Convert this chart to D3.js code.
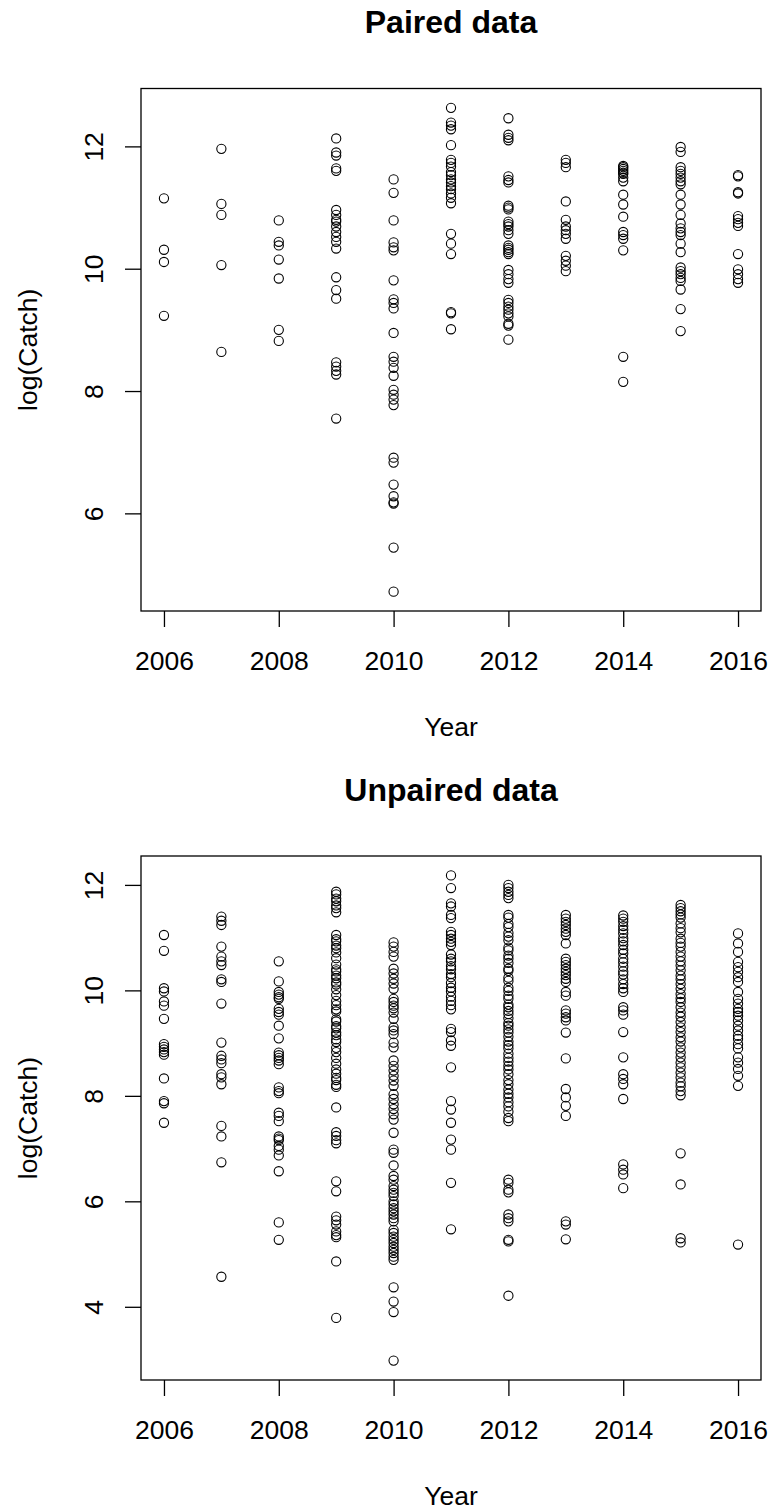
<!DOCTYPE html>
<html>
<head>
<meta charset="utf-8">
<script src="https://cdn.jsdelivr.net/npm/d3@7"></script>
<style>
  html, body { margin: 0; padding: 0; background: #fff; }
  svg { display: block; font-family: 'Liberation Sans', Arial, Helvetica, sans-serif; }
</style>
</head>
<body>
<div id="chart"></div>
<script>
// survey years (one column of points per year)
const years = [2006, 2007, 2008, 2009, 2010, 2011, 2012, 2013, 2014, 2015, 2016]

// log(Catch) per year, paired data
const pairedCatch = [
  [11.15, 10.31, 10.11, 9.23],
  [11.96, 11.06, 10.88, 10.06, 8.64],
  [10.79, 10.44, 10.38, 10.15, 9.84, 9.0, 8.82],
  [12.13, 11.9, 11.85, 11.64, 11.6, 10.96, 10.88, 10.8, 10.77, 10.69, 10.6, 10.52, 10.44, 10.33, 9.86, 9.65, 9.51, 8.47, 8.4, 8.33, 8.27, 7.55],
  [11.46, 11.24, 10.79, 10.43, 10.35, 10.3, 9.81, 9.5, 9.44, 9.35, 8.95, 8.56, 8.48, 8.38, 8.25, 8.02, 7.94, 7.86, 7.77, 6.91, 6.83, 6.47, 6.28, 6.18, 6.16, 5.44, 4.72],
  [12.63, 12.39, 12.34, 12.28, 12.02, 11.78, 11.73, 11.67, 11.58, 11.53, 11.46, 11.41, 11.35, 11.3, 11.23, 11.16, 11.07, 10.57, 10.41, 10.24, 9.29, 9.27, 9.01],
  [12.46, 12.19, 12.14, 12.1, 11.51, 11.45, 11.41, 11.03, 11.0, 10.97, 10.77, 10.73, 10.69, 10.63, 10.57, 10.38, 10.34, 10.31, 10.27, 10.24, 9.98, 9.91, 9.83, 9.77, 9.49, 9.44, 9.38, 9.33, 9.27, 9.22, 9.1, 9.07, 8.84],
  [11.78, 11.73, 11.66, 11.1, 10.8, 10.69, 10.63, 10.57, 10.49, 10.21, 10.13, 10.05, 9.96],
  [11.68, 11.66, 11.63, 11.6, 11.57, 11.55, 11.49, 11.43, 11.21, 11.05, 10.85, 10.6, 10.55, 10.49, 10.3, 8.56, 8.15],
  [11.99, 11.91, 11.66, 11.6, 11.55, 11.49, 11.43, 11.38, 11.21, 11.05, 10.88, 10.74, 10.66, 10.6, 10.55, 10.41, 10.27, 10.02, 9.96, 9.91, 9.85, 9.8, 9.66, 9.34, 8.98],
  [11.53, 11.51, 11.25, 11.23, 10.86, 10.81, 10.75, 10.7, 10.24, 9.99, 9.91, 9.83, 9.77],
]

// log(Catch) per year, unpaired data
const unpairedCatch = [
  [11.05, 10.75, 10.04, 9.98, 9.79, 9.71, 9.46, 8.98, 8.93, 8.88, 8.83, 8.78, 8.33, 7.9, 7.86, 7.49],
  [11.4, 11.32, 11.24, 10.83, 10.64, 10.55, 10.48, 10.21, 10.16, 9.75, 9.01, 8.76, 8.69, 8.62, 8.41, 8.35, 8.22, 7.43, 7.23, 6.74, 4.57],
  [10.55, 10.17, 9.97, 9.92, 9.87, 9.84, 9.65, 9.59, 9.54, 9.33, 9.09, 8.82, 8.77, 8.72, 8.67, 8.6, 8.16, 8.09, 8.05, 7.68, 7.62, 7.52, 7.23, 7.19, 7.16, 7.05, 6.98, 6.87, 6.57, 5.6, 5.27],
  [11.87, 11.82, 11.74, 11.69, 11.61, 11.56, 11.48, 11.05, 10.97, 10.93, 10.85, 10.8, 10.72, 10.61, 10.49, 10.4, 10.36, 10.28, 10.23, 10.15, 10.11, 10.02, 9.91, 9.8, 9.72, 9.64, 9.6, 9.45, 9.41, 9.32, 9.28, 9.2, 9.15, 9.07, 9.02, 8.91, 8.83, 8.72, 8.61, 8.5, 8.42, 8.34, 8.3, 8.21, 8.17, 7.78, 7.31, 7.24, 7.16, 7.1, 6.38, 6.19, 5.71, 5.64, 5.56, 5.43, 5.36, 5.32, 4.86, 3.79],
  [10.91, 10.83, 10.73, 10.64, 10.41, 10.32, 10.22, 10.13, 10.03, 9.84, 9.78, 9.71, 9.66, 9.58, 9.46, 9.3, 9.24, 9.17, 9.01, 8.92, 8.67, 8.57, 8.48, 8.38, 8.29, 8.19, 8.03, 7.94, 7.84, 7.75, 7.65, 7.55, 7.3, 6.98, 6.92, 6.68, 6.48, 6.41, 6.29, 6.22, 6.16, 6.1, 6.0, 5.94, 5.87, 5.81, 5.75, 5.68, 5.62, 5.46, 5.4, 5.33, 5.27, 5.21, 5.14, 5.08, 5.02, 4.95, 4.89, 4.37, 4.1, 3.9, 2.98],
  [12.18, 11.94, 11.65, 11.59, 11.43, 11.37, 11.11, 11.05, 10.98, 10.92, 10.86, 10.68, 10.6, 10.55, 10.46, 10.4, 10.31, 10.25, 10.14, 10.05, 9.98, 9.88, 9.8, 9.72, 9.64, 9.27, 9.21, 9.05, 8.95, 8.54, 7.9, 7.74, 7.49, 7.17, 6.98, 6.35, 5.47],
  [12.0, 11.94, 11.87, 11.81, 11.75, 11.43, 11.38, 11.26, 11.2, 11.09, 11.02, 10.95, 10.81, 10.76, 10.66, 10.6, 10.52, 10.41, 10.37, 10.24, 10.18, 10.05, 9.99, 9.9, 9.84, 9.73, 9.68, 9.61, 9.55, 9.47, 9.38, 9.33, 9.26, 9.2, 9.12, 9.03, 8.96, 8.9, 8.8, 8.72, 8.65, 8.57, 8.5, 8.41, 8.3, 8.22, 8.12, 8.04, 7.97, 7.88, 7.8, 7.7, 7.58, 7.52, 6.41, 6.35, 6.22, 6.17, 5.75, 5.68, 5.62, 5.27, 5.24, 4.21],
  [11.43, 11.36, 11.3, 11.24, 11.17, 11.11, 11.05, 10.89, 10.6, 10.54, 10.48, 10.41, 10.35, 10.29, 10.22, 10.16, 9.97, 9.9, 9.62, 9.56, 9.49, 9.43, 9.2, 8.71, 8.13, 7.97, 7.81, 7.62, 5.62, 5.56, 5.28],
  [11.42, 11.36, 11.3, 11.22, 11.15, 11.08, 10.99, 10.93, 10.86, 10.77, 10.7, 10.6, 10.53, 10.45, 10.36, 10.3, 10.21, 10.12, 10.04, 9.97, 9.68, 9.62, 9.54, 9.21, 8.73, 8.41, 8.32, 8.22, 7.94, 6.7, 6.6, 6.51, 6.25],
  [11.62, 11.56, 11.5, 11.44, 11.38, 11.27, 11.18, 11.1, 10.98, 10.9, 10.83, 10.73, 10.64, 10.55, 10.47, 10.38, 10.28, 10.21, 10.12, 10.03, 9.93, 9.85, 9.78, 9.68, 9.58, 9.5, 9.4, 9.3, 9.21, 9.11, 9.03, 8.92, 8.82, 8.73, 8.63, 8.54, 8.44, 8.35, 8.25, 8.18, 8.09, 8.01, 6.91, 6.32, 5.3, 5.22],
  [11.08, 10.89, 10.73, 10.54, 10.44, 10.35, 10.25, 10.16, 9.97, 9.84, 9.75, 9.65, 9.59, 9.52, 9.43, 9.33, 9.24, 9.14, 9.08, 8.98, 8.9, 8.73, 8.63, 8.51, 8.38, 8.19, 5.18],
]

// tick labels
const yearTicks = [2006, 2008, 2010, 2012, 2014, 2016]
const pairedTicks = [6, 8, 10, 12]
const unpairedTicks = [4, 6, 8, 10, 12]

const width = 773
const height = 1510
const left = 141
const right = 761
const fontSize = 26.5

const svg = d3
  .select('#chart')
  .append('svg')
  .attr('width', width)
  .attr('height', height)

svg.append('rect').attr('width', width).attr('height', height).attr('fill', '#fff')

// R style axis range: data range padded by 4% on each side
const padRange = ext => {
  const pad = (ext[1] - ext[0]) * 0.04
  return [ext[0] - pad, ext[1] + pad]
}

const x = d3
  .scaleLinear()
  .domain(padRange([years[0], years[years.length - 1]]))
  .range([left, right])

const drawPanel = ({ title, values, ticks, top, bottom }) => {
  const points = years.flatMap((year, i) => values[i].map(v => ({ year, v })))

  const y = d3
    .scaleLinear()
    .domain(padRange(d3.extent(points, d => d.v)))
    .range([bottom, top])

  const g = svg.append('g')

  // x axis
  const xAxis = g
    .append('g')
    .attr('transform', `translate(0,${bottom})`)
    .call(
      d3.axisBottom(x).tickValues(yearTicks).tickFormat(d3.format('d')).tickSize(16).tickSizeOuter(0).tickPadding(24),
    )
  xAxis.select('.domain').remove()
  xAxis.selectAll('line').attr('stroke', '#000').attr('stroke-width', 1.3)
  xAxis.selectAll('text').attr('font-size', fontSize).attr('fill', '#000').attr('font-family', null)

  // y axis, labels parallel to the axis
  const yAxis = g
    .append('g')
    .attr('transform', `translate(${left},0)`)
    .call(d3.axisLeft(y).tickValues(ticks).tickSize(16).tickSizeOuter(0))
  yAxis.select('.domain').remove()
  yAxis.selectAll('line').attr('stroke', '#000').attr('stroke-width', 1.3)
  yAxis
    .selectAll('text')
    .attr('x', null)
    .attr('dy', null)
    .attr('text-anchor', 'middle')
    .attr('transform', 'translate(-37.7,0) rotate(-90)')
    .attr('font-size', fontSize)
    .attr('fill', '#000')
    .attr('font-family', null)

  // plot box
  g.append('rect')
    .attr('x', left)
    .attr('y', top)
    .attr('width', right - left)
    .attr('height', bottom - top)
    .attr('fill', 'none')
    .attr('stroke', '#000')
    .attr('stroke-width', 1.3)

  // points
  g.append('g')
    .selectAll('circle')
    .data(points)
    .enter()
    .append('circle')
    .attr('cx', d => x(d.year))
    .attr('cy', d => y(d.v))
    .attr('r', 4.6)
    .attr('fill', 'none')
    .attr('stroke', '#000')
    .attr('stroke-width', 1.1)

  // titles
  const cx = (left + right) / 2
  g.append('text')
    .attr('x', cx)
    .attr('y', top - 55.5)
    .attr('text-anchor', 'middle')
    .attr('font-size', 32)
    .attr('font-weight', 'bold')
    .text(title)

  g.append('text')
    .attr('x', cx)
    .attr('y', bottom + 125)
    .attr('text-anchor', 'middle')
    .attr('font-size', fontSize)
    .text('Year')

  g.append('text')
    .attr('transform', `translate(37,${(top + bottom) / 2}) rotate(-90)`)
    .attr('text-anchor', 'middle')
    .attr('font-size', fontSize)
    .text('log(Catch)')
}

drawPanel({ title: 'Paired data', values: pairedCatch, ticks: pairedTicks, top: 88.5, bottom: 611 })
drawPanel({ title: 'Unpaired data', values: unpairedCatch, ticks: unpairedTicks, top: 856, bottom: 1380 })
</script>
</body>
</html>
